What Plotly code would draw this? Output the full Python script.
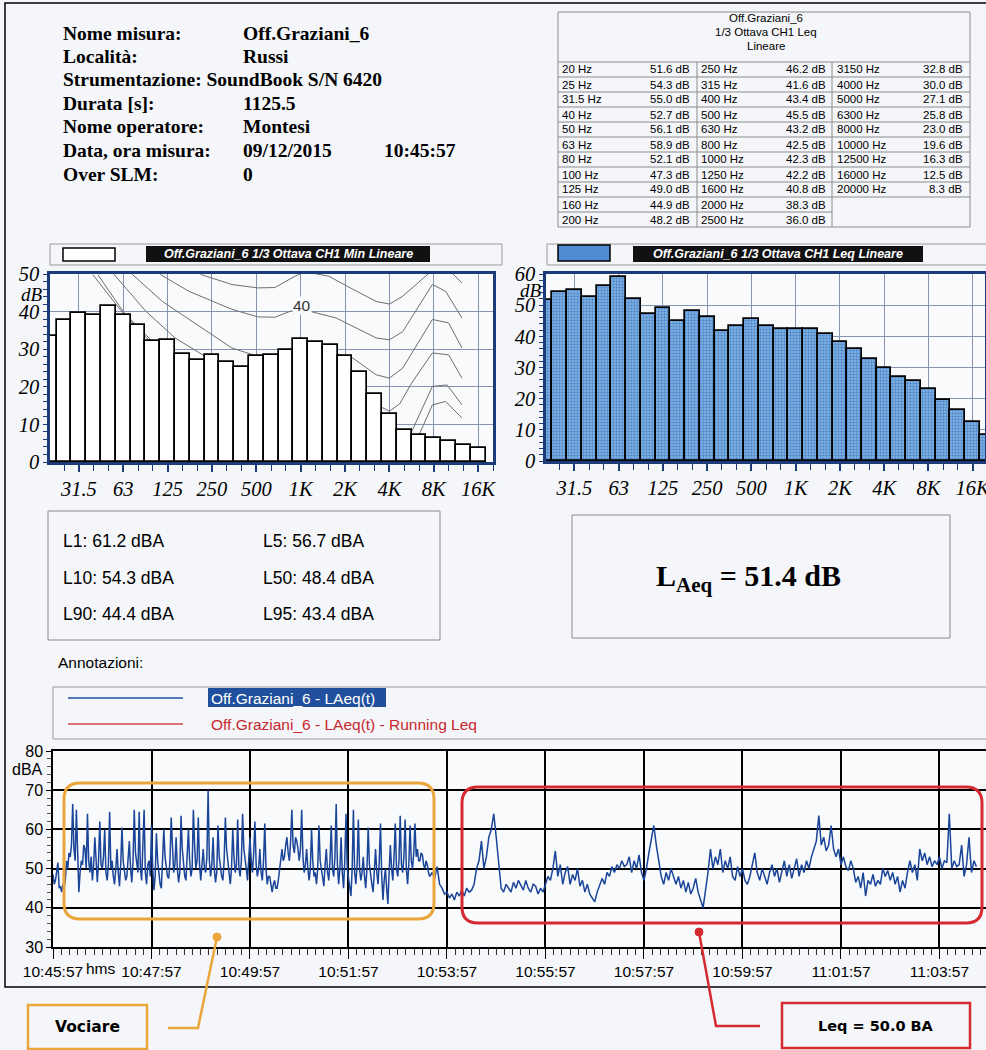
import plotly.graph_objects as go

W, H = 986, 1050


def X(px):
    return px / W


def Y(py):
    return 1 - py / H


# ---------------- header info ----------------
info_labels = ["Nome misura:", "Località:", "Strumentazione:", "Durata [s]:",
               "Nome operatore:", "Data, ora misura:", "Over SLM:"]
info_values = ["Off.Graziani_6", "Russi", "SoundBook S/N 6420", "1125.5",
               "Montesi", "09/12/2015", "0"]
info_time = "10:45:57"

# ---------------- 1/3 octave spectra ----------------
band_hz = [20, 25, 31.5, 40, 50, 63, 80, 100, 125, 160, 200, 250, 315, 400, 500, 630,
           800, 1000, 1250, 1600, 2000, 2500, 3150, 4000, 5000, 6300, 8000, 10000,
           12500, 16000, 20000]
band_labels = ["20", "25", "31.5", "40", "50", "63", "80", "100", "125", "160", "200",
               "250", "315", "400", "500", "630", "800", "1K", "1.25K", "1.6K", "2K",
               "2.5K", "3.15K", "4K", "5K", "6.3K", "8K", "10K", "12.5K", "16K", "20K"]
leq_db = [51.6, 54.3, 55.0, 52.7, 56.1, 58.9, 52.1, 47.3, 49.0, 44.9, 48.2, 46.2, 41.6,
          43.4, 45.5, 43.2, 42.5, 42.3, 42.2, 40.8, 38.3, 36.0, 32.8, 30.0, 27.1, 25.8,
          23.0, 19.6, 16.3, 12.5, 8.3]
min_db = [33.4, 37.9, 39.5, 39.0, 41.4, 39.0, 36.5, 32.3, 32.5, 28.7, 27.1, 28.5, 26.7,
          25.2, 28.1, 28.5, 29.8, 32.8, 31.9, 31.2, 28.1, 23.9, 18.2, 12.9, 8.5, 7.1,
          6.3, 5.7, 4.6, 3.7]
octave_labels = ["31.5", "63", "125", "250", "500", "1K", "2K", "4K", "8K", "16K"]

# equal-loudness contours drawn behind the Min spectrum (band index, dB)
contour_0_idx = [2.95, 4.8, 8, 11, 14, 17, 20, 23, 25.0, 25.9, 26.8, 27.9]
contour_0_db = [49.8, 40.5, 27, 17, 9, 4, 2, 0, 7.2, 15.2, 16.1, 11.7]
contour_10_idx = [3.29, 5.07, 8, 11, 14, 17, 20, 23, 24.5, 25.9, 26.9, 27.9]
contour_10_db = [49.8, 39.6, 28, 20, 14, 11, 9, 6, 8.1, 20.1, 20.5, 15.2]
contour_20_idx = [4.0, 4.4, 6.53, 8.5, 11, 14, 17, 20, 21.5, 22.5, 23.0, 23.7, 24.5, 25.9, 27.0, 27.9]
contour_20_db = [52, 49.8, 40.1, 33, 27, 22, 20, 19.5, 17, 14.5, 13.5, 15.5, 21, 29.0, 28.5, 22.3]
contour_30_idx = [5.2, 5.64, 7.65, 10.3, 12.35, 14.1, 15.25, 17, 19, 20.5, 22.1, 23.0, 23.9, 25.9, 27.0, 27.9]
contour_30_db = [52, 49.8, 42.7, 35.6, 30.3, 28.1, 28.1, 29.5, 29.2, 27.7, 23.2, 22.3, 25.0, 37.9, 37.0, 30.3]
contour_40_idx = [7.0, 7.54, 9.44, 12.35, 14.1, 15.25, 16.3, 17.0, 17.6, 19.4, 22.1, 23.0, 23.9, 25.9, 26.8, 27.9]
contour_40_db = [52, 49.8, 45.4, 40.6, 38.6, 38.5, 40.1, 40.4, 40.1, 38.3, 33.0, 32.5, 34.7, 47.2, 45.4, 38.3]
contour_50_idx = [9.5, 10.3, 12.35, 14.1, 15.25, 16.6, 17.3, 18.9, 20.5, 22.1, 23.0, 23.9, 25.9, 26.8, 27.9]
contour_50_db = [52, 49.8, 47.2, 46.3, 46.4, 49.4, 50.6, 49.4, 46.0, 42.7, 42.0, 44.1, 51, 52, 47.6]

# ---------------- statistics ----------------
stat_names = ["L1", "L5", "L10", "L50", "L90", "L95"]
stat_values = [61.2, 56.7, 54.3, 48.4, 44.4, 43.4]
laeq_total = 51.4
leq_quiet = 50.0

# ---------------- time history ----------------
time_tick_labels = ["10:45:57", "10:47:57", "10:49:57", "10:51:57", "10:53:57",
                    "10:55:57", "10:57:57", "10:59:57", "11:01:57", "11:03:57"]
# busy part (voices), one value every 1.5 s from 0 s to 459 s
fast_step_s = 1.5
laeq_fast = [
    48.5, 46, 47, 49, 51.5, 45, 45.5, 44, 46, 45, 47, 52, 50, 54, 53, 56, 66.5, 55, 52, 65,
    50, 44, 49, 52, 51, 56, 55, 50, 64, 52, 49, 53, 47, 51, 58, 50, 46.5, 52, 62, 51,
    50, 53, 60, 49, 47, 51, 64.5, 50, 52, 48, 46, 50, 55, 49, 45.5, 51, 60.5, 52, 50, 47,
    48, 53, 57, 50, 46.5, 52, 65, 54, 51, 49, 64.5, 50, 47, 55, 65, 49, 46, 51, 52, 48,
    61, 50, 44.5, 48, 59, 52, 48, 46, 45, 51, 60, 53, 50, 48, 47.5, 52, 63, 54, 49, 51,
    58, 50, 46.5, 49, 63.5, 55, 51, 48, 47, 53, 60, 52, 48, 50, 65, 56, 50, 52, 63, 51,
    47, 51, 55, 50, 49, 53, 70, 52, 48, 51, 58, 50, 46.5, 49, 61, 53, 50, 48, 47, 52,
    63, 55, 52, 49, 46, 50, 60, 53, 49, 51, 62.5, 50, 48, 52, 64, 55, 53, 50, 47, 52,
    58, 52, 49, 54, 62, 51, 48, 50, 55, 49, 47, 52, 61.5, 50, 46, 48, 48, 46, 44, 46,
    47, 45, 45, 47, 50, 53, 55, 52, 53, 56, 58, 54, 52, 57, 65, 56, 54, 58, 57, 55,
    52, 55, 65, 53, 49, 51, 55, 50, 47, 50, 60, 52, 48, 49, 46, 50, 61, 52, 50, 48,
    45.5, 51, 55, 49, 47, 52, 61, 50, 48, 53, 66.5, 51, 46, 50, 58, 49, 45, 52, 64, 50,
    48, 45, 43, 50, 65, 49, 46, 51, 62.5, 50, 47, 49, 53, 48, 45, 50, 60.5, 51, 48, 46,
    44, 50, 55, 49, 46, 52, 61.5, 48, 42, 47, 50, 45, 41, 49, 56, 50, 47, 53, 61.5, 50,
    48, 52, 63.5, 51, 49, 53, 62.5, 50, 46, 51, 61, 52, 50, 54, 61.5, 53, 55, 52, 52, 54,
    53.5, 51, 50, 52, 51, 49, 48,
]
# quieter part, one value every 3 s from 462 s to 1125 s
slow_start_s = 462
slow_step_s = 3
laeq_slow = [
    49, 47.5, 50.5, 46, 45, 43.5,
    44, 42.5, 43.5, 42, 44, 43, 44.5, 43, 45, 44, 44.5, 46, 50, 52, 57, 50, 53, 58, 60, 64,
    58, 52, 45, 44, 46, 45, 44, 46.5, 45, 47, 45.5, 44.5, 47, 45, 44, 46, 45.5, 43.5, 45, 44,
    46, 48, 47, 50, 54.5, 48, 51, 46, 49, 50.5, 46, 48.5, 47, 50, 45.5, 47, 44, 46, 43.5, 42.5,
    41.5, 44, 46, 47.5, 46, 49, 48, 50.5, 49, 51, 50, 52, 50.5, 51, 53, 49, 52, 50, 53.5, 49,
    47, 50, 54, 58, 61, 56, 52, 48, 46, 49, 47, 50, 48, 46, 48, 45, 47, 44, 46.5, 43.5,
    45, 47.5, 44, 42, 40, 44.5, 49, 55, 50, 53, 51, 55, 49, 52, 50, 53, 48, 47, 50.5, 48,
    50, 47, 46, 48, 51, 54, 49, 47, 50, 48, 46, 49, 51, 48, 50, 46.5, 49, 52, 48, 51,
    47.5, 50, 52.5, 48, 51, 49, 52, 50, 53, 55, 57, 63.5, 56, 58, 54.5, 56, 61, 55, 53, 55,
    51, 53, 50.5, 49.5, 52, 50, 46.5, 48, 45, 49, 43, 47, 46, 48.5, 45.5, 47, 46, 50, 48, 49.5,
    47, 49, 46, 48, 44, 47, 45, 49, 52, 49, 51, 47, 55, 52, 54, 51, 53, 50.5, 52, 51,
    53, 50, 52, 51.5, 64, 50, 52, 50.5, 51, 56, 48, 51, 58, 49, 52, 50.5,
]
t_seconds = ([i * fast_step_s for i in range(len(laeq_fast))]
             + [slow_start_s + i * slow_step_s for i in range(len(laeq_slow))])
laeq_t = laeq_fast + laeq_slow

# ---------------- styling constants ----------------
NAVY = "#1b3c78"
GRID = "#8594b4"
SERIF = "Liberation Serif, Times New Roman, serif"
SANS = "Liberation Sans, Arial, sans-serif"
BOLDSANS = "DejaVu Sans, Verdana, sans-serif"

shapes = []
annotations = []


def rect(x0, y0, x1, y1, color="#8a8a8a", width=1, fill=None):
    shapes.append(dict(type="rect", xref="paper", yref="paper",
                       x0=X(x0), x1=X(x1), y0=Y(y1), y1=Y(y0),
                       line=dict(color=color, width=width),
                       fillcolor=fill if fill else "rgba(0,0,0,0)", layer="above"))


def seg(x0, y0, x1, y1, color="#8a8a8a", width=1):
    shapes.append(dict(type="line", xref="paper", yref="paper",
                       x0=X(x0), x1=X(x1), y0=Y(y0), y1=Y(y1),
                       line=dict(color=color, width=width), layer="above"))


def path(points, color, width):
    d = "M " + " L ".join(f"{X(px):.5f},{Y(py):.5f}" for px, py in points)
    shapes.append(dict(type="path", xref="paper", yref="paper", path=d,
                       line=dict(color=color, width=width), layer="above"))


def dot(px, py, r, color):
    shapes.append(dict(type="circle", xref="paper", yref="paper",
                       x0=X(px - r), x1=X(px + r), y0=Y(py + r), y1=Y(py - r),
                       line=dict(color=color, width=1), fillcolor=color, layer="above"))


def rrect(x0, y0, x1, y1, r, color, width):
    def p(a, b):
        return f"{X(a):.5f},{Y(b):.5f}"
    d = (f"M {p(x0 + r, y0)} L {p(x1 - r, y0)} Q {p(x1, y0)} {p(x1, y0 + r)} "
         f"L {p(x1, y1 - r)} Q {p(x1, y1)} {p(x1 - r, y1)} L {p(x0 + r, y1)} "
         f"Q {p(x0, y1)} {p(x0, y1 - r)} L {p(x0, y0 + r)} Q {p(x0, y0)} {p(x0 + r, y0)} Z")
    shapes.append(dict(type="path", xref="paper", yref="paper", path=d,
                       line=dict(color=color, width=width), layer="above"))


def text(px, py, s, size, color="black", family=SANS, xanchor="left", bg=None):
    a = dict(xref="paper", yref="paper", x=X(px), y=Y(py), text=s, showarrow=False,
             xanchor=xanchor, yanchor="middle", borderpad=0,
             font=dict(family=family, size=size, color=color))
    if bg:
        a["bgcolor"] = bg
    annotations.append(a)


# ---------------- page frame ----------------
rect(5, 3, 1000, 987, color="black", width=1.5)

# ---------------- header block ----------------
info_rows_y = [33, 56.5, 80, 103.5, 127, 150.5, 174]
for i, (lab, val) in enumerate(zip(info_labels, info_values)):
    if lab.startswith("Strumentazione"):
        text(62, info_rows_y[i], f"<b>{lab} {val}</b>", 19.5, family=SERIF)
    else:
        text(62, info_rows_y[i], f"<b>{lab}</b>", 19.5, family=SERIF)
        text(242, info_rows_y[i], f"<b>{val}</b>", 19.5, family=SERIF)
text(383, info_rows_y[5], f"<b>{info_time}</b>", 19.5, family=SERIF)

# ---------------- table ----------------
TBL_GRAY = "#8c8c8c"
rect(558, 12, 970, 227, color=TBL_GRAY, width=1)
seg(558, 62, 970, 62, TBL_GRAY, 1)
seg(697, 62, 697, 227, TBL_GRAY, 1)
seg(832, 62, 832, 227, TBL_GRAY, 1)
for k in range(1, 11):
    yk = 62 + 15 * k
    seg(558, yk, 970 if k <= 9 else 832, yk, TBL_GRAY, 1)
text(766, 18, "Off.Graziani_6", 11.5, xanchor="center")
text(766, 32, "1/3 Ottava CH1 Leq", 11.5, xanchor="center")
text(766, 45.5, "Lineare", 11.5, xanchor="center")
col_label_x = [561, 700, 836]
col_value_rx = [691, 827, 964]
for i, (hz, v) in enumerate(zip(band_hz, leq_db)):
    c, r = divmod(i, 11)
    yc = 69.5 + 15 * r
    text(col_label_x[c], yc, f"{hz:g} Hz", 11.5)
    text(col_value_rx[c], yc, f"{v:.1f} dB", 11.5, xanchor="right")

# ---------------- spectrum legends ----------------
rect(50, 244, 502, 265, color="#999999", width=1)
rect(63, 248, 115, 261, color="black", width=1.5, fill="white")
rect(146, 246, 430, 262, color="#111111", width=0, fill="#111111")
text(288, 254, "<b><i>Off.Graziani_6 1/3 Ottava CH1 Min Lineare</i></b>", 12.5,
     color="white", xanchor="center")

rect(547, 244, 1000, 265, color="#999999", width=1)
rect(558, 245, 610, 261, color="black", width=1.5, fill="#4f8bd0")
rect(633, 246, 923, 262, color="#111111", width=0, fill="#111111")
text(778, 254, "<b><i>Off.Graziani_6 1/3 Ottava CH1 Leq Lineare</i></b>", 12.5,
     color="white", xanchor="center")

text(44, 294, "<i>dB</i>", 19, family=SERIF, xanchor="right")
text(543, 290, "<i>dB</i>", 19, family=SERIF, xanchor="right")
text(302, 306, "40", 15.5, color="#333333", xanchor="center", bg="#f9fafc")

# ---------------- statistics boxes ----------------
rect(48, 511, 440, 640, color="#8a8a8a", width=1)
stat_pos = [(62, 541), (262, 541), (62, 578), (262, 578), (62, 614), (262, 614)]
for (px, py), n, v in zip(stat_pos, stat_names, stat_values):
    text(px, py, f"{n}: {v:.1f} dBA", 17.5)
rect(572, 515, 950, 638, color="#8a8a8a", width=1)
text(748, 578, f"<b>L<sub>Aeq</sub> = {laeq_total:.1f} dB</b>", 30, family=SERIF, xanchor="center")
text(57, 662, "Annotazioni:", 15.5)

# ---------------- time history legend ----------------
rect(53, 687, 1000, 739, color="#999999", width=1)
seg(68, 698, 183, 698, "#1e4fa3", 1.6)
rect(208, 688, 386, 707, color="#1f4f9d", width=0, fill="#1f4f9d")
text(210, 698, "Off.Graziani_6 - LAeq(t)", 15.5, color="white")
seg(68, 724, 183, 724, "#d24848", 1.3)
text(210, 724, "Off.Graziani_6 - LAeq(t) - Running Leq", 15.5, color="#c8282e")

text(44, 769, "dBA", 16, xanchor="right")
text(101, 968, "hms", 15.5, xanchor="center")

# ---------------- annotation callouts ----------------
ORANGE = "#eaa63a"
RED = "#d42a30"
rrect(64, 783, 434, 919, 16, ORANGE, 3)
rrect(462, 787, 982, 923, 16, RED, 3)
path([(217, 937), (198, 1028), (168, 1028)], ORANGE, 2.5)
dot(217, 937, 4, ORANGE)
path([(699, 932), (716, 1026), (760, 1026)], RED, 2.5)
dot(699, 932, 4, RED)
rect(28, 1005, 147, 1049, color=ORANGE, width=2.5)
text(87.5, 1027, "<b>Vociare</b>", 15.5, family=BOLDSANS, xanchor="center")
rect(782, 1003, 970, 1048, color=RED, width=2.5)
text(876, 1026, f"<b>Leq = {leq_quiet:.1f} BA</b>", 14.5, family=BOLDSANS, xanchor="center")

# ---------------- traces ----------------
fig = go.Figure()
contours = [(contour_0_idx, contour_0_db), (contour_10_idx, contour_10_db),
            (contour_20_idx, contour_20_db), (contour_30_idx, contour_30_db),
            (contour_40_idx, contour_40_db), (contour_50_idx, contour_50_db)]
for cx, cy in contours:
    fig.add_trace(go.Scatter(x=cx, y=cy, mode="lines", xaxis="x", yaxis="y",
                             line=dict(color="#6e6e6e", width=1), hoverinfo="skip"))

band_idx_min = list(range(len(min_db)))
band_idx_leq = list(range(len(leq_db)))
fig.add_trace(go.Bar(x=band_idx_min, y=min_db, width=1.0, xaxis="x2", yaxis="y2",
                     marker=dict(color="white", line=dict(color="black", width=1.7))))
fig.add_trace(go.Bar(x=band_idx_leq, y=leq_db, width=1.0, xaxis="x3", yaxis="y3",
                     marker=dict(color="#6fa6e0", line=dict(color="black", width=1.7),
                                 pattern=dict(shape=".", fgcolor="#1f58a6", bgcolor="#86b9ea",
                                              size=3, solidity=0.5))))
fig.add_trace(go.Scatter(x=t_seconds, y=laeq_t, mode="lines", xaxis="x4", yaxis="y4",
                         line=dict(color="#1a4598", width=1.5)))

tick_idx = [band_labels.index(lb) for lb in octave_labels]
serif_tick = dict(family=SERIF, size=20.5, color="black", style="italic")


def bar_xaxis(domain, rng):
    return dict(domain=domain, range=rng, automargin=False, tickmode="array",
                tickvals=tick_idx, ticktext=octave_labels, tickfont=serif_tick,
                ticklabeloverflow="allow",
                ticks="outside", ticklen=7, tickcolor=NAVY, tickwidth=1.5,
                showline=True, linecolor=NAVY, linewidth=2.5, mirror=True,
                showgrid=True, gridcolor=GRID, gridwidth=1, zeroline=False,
                minor=dict(tickmode="linear", tick0=0, dtick=1, ticks="outside", ticklen=6,
                           tickcolor=NAVY, tickwidth=1.2, showgrid=False))


def bar_yaxis(domain, top):
    return dict(domain=domain, range=[0, top], automargin=False, tickmode="linear",
                tick0=0, dtick=10, tickfont=serif_tick, ticks="outside", ticklen=4,
                tickcolor=NAVY, showline=True, linecolor=NAVY, linewidth=2.5, mirror=True,
                showgrid=True, gridcolor=GRID, gridwidth=1, zeroline=False,
                minor=dict(tickmode="linear", tick0=0, dtick=2, ticks="outside", ticklen=4,
                           tickcolor=NAVY, showgrid=False))


left_dom_x = [X(50), X(493)]
left_dom_y = [Y(462), Y(274)]
left_range = [0.05, 30.0]

fig.update_layout(
    width=W, height=H, margin=dict(l=0, r=0, t=0, b=0, autoexpand=False),
    paper_bgcolor="#f4f6f9", plot_bgcolor="#f9fafc", showlegend=False,
    bargap=0,
    xaxis=dict(bar_xaxis(left_dom_x, left_range), anchor="y"),
    yaxis=dict(bar_yaxis(left_dom_y, 50), anchor="x"),
    xaxis2=dict(overlaying="x", range=left_range, visible=False, anchor="y2", automargin=False),
    yaxis2=dict(overlaying="y", range=[0, 50], visible=False, anchor="x2", automargin=False),
    xaxis3=dict(bar_xaxis([X(546), X(985)], [0.075, 29.84]), anchor="y3"),
    yaxis3=dict(bar_yaxis([Y(461), Y(274)], 60), anchor="x3"),
    xaxis4=dict(domain=[X(53), 1.0], range=[0, (986 - 53) / 0.8208], anchor="y4",
                automargin=False, tickmode="array", ticklabeloverflow="allow",
                tickvals=[120 * i for i in range(len(time_tick_labels))],
                ticktext=time_tick_labels, tickfont=dict(family=SANS, size=15.5, color="black"),
                ticks="outside", ticklen=10, tickcolor="black", tickwidth=1.2,
                showline=True, linecolor="black", linewidth=1.5, mirror=True,
                showgrid=True, gridcolor="black", gridwidth=1.5, zeroline=False,
                minor=dict(tickmode="linear", tick0=0, dtick=10, ticks="outside", ticklen=6,
                           tickcolor="#333333", tickwidth=1, showgrid=False)),
    yaxis4=dict(domain=[Y(947), Y(751)], range=[30, 80], anchor="x4", automargin=False,
                tickmode="linear", tick0=30, dtick=10,
                tickfont=dict(family=SANS, size=16, color="black"),
                ticks="outside", ticklen=5, tickcolor="black", showline=True,
                linecolor="black", linewidth=1.5, showgrid=True, gridcolor="black",
                gridwidth=1.5, zeroline=False,
                minor=dict(tickmode="linear", tick0=30, dtick=2, ticks="outside", ticklen=4,
                           tickcolor="#555555", showgrid=False)),
    shapes=shapes, annotations=annotations,
)

fig.write_html("out.html", config={"displayModeBar": False},
               post_script="document.body.style.margin='0px';document.body.style.overflow='hidden';")
